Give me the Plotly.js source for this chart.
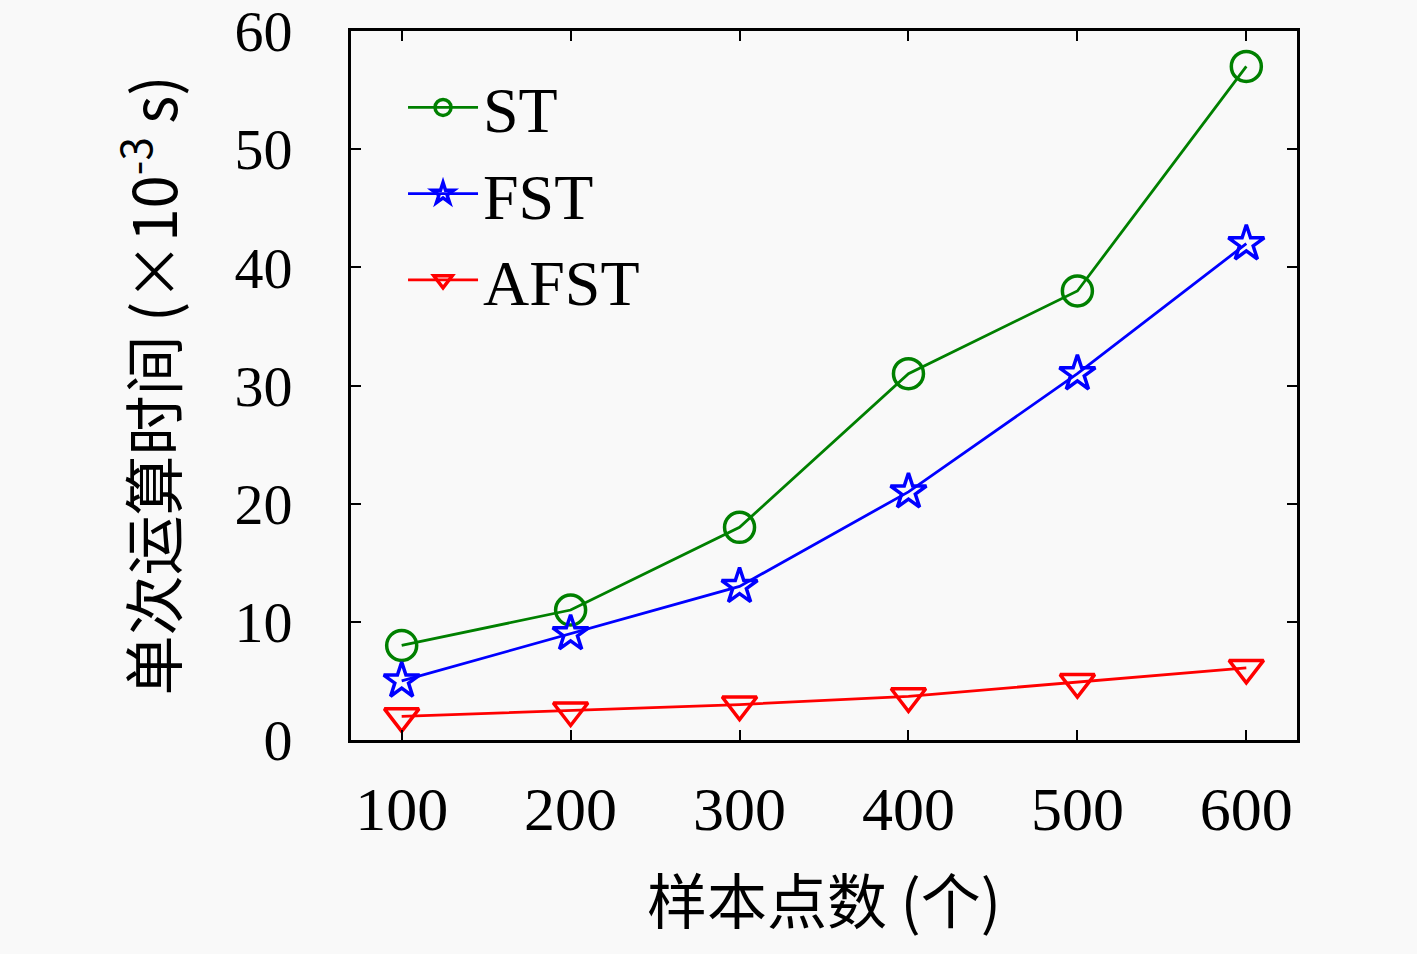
<!DOCTYPE html>
<html>
<head>
<meta charset="utf-8">
<script src="https://cdn.plot.ly/plotly-3.0.1.min.js"></script>
<style>
  body { margin: 0; background: rgb(249, 249, 249); }
</style>
</head>
<body>
<div id="chart" style="width:1417px;height:954px;"></div>
<script>
const samples = [100, 200, 300, 400, 500, 600];
const st = [8, 11, 18, 31, 38, 57];
const fst = [5, 9, 13, 21, 31, 42];
const afst = [2, 2.5, 3, 3.7, 4.9, 6.1];

const SERIF = '"Liberation Serif", "DejaVu Serif", serif';
const CJK = '"Noto Sans CJK SC", ' + SERIF;

function series(name, y, color, symbol, size) {
    return {
        x: samples,
        y: y,
        type: "scatter",
        mode: "lines+markers",
        name: name,
        line: { color: color, width: 2.8 },
        marker: {
            symbol: symbol,
            size: size,
            color: color,
            line: { color: color, width: 3.5 }
        }
    }
}

const traces = [
    series("ST", st, "rgb(0, 128, 0)", "circle-open", 30),
    series("FST", fst, "rgb(0, 0, 255)", "star-open", 27),
    series("AFST", afst, "rgb(255, 0, 0)", "triangle-down-open", 30)
];

Plotly.newPlot("chart", traces, {
    width: 1417,
    height: 954,
    paper_bgcolor: "rgb(249, 249, 249)",
    plot_bgcolor: "rgb(249, 249, 249)",
    margin: { l: 351, r: 120, t: 31, b: 214, pad: 0 },
    font: { family: SERIF, color: "black" },
    showlegend: true,
    legend: {
        x: 0.055,
        y: 0.96,
        xanchor: "left",
        yanchor: "top",
        bgcolor: "rgba(0,0,0,0)",
        font: { family: SERIF, size: 64, color: "black" },
        itemwidth: 70,
        tracegroupgap: 0
    },
    xaxis: {
        range: [70, 630],
        tickvals: samples,
        ticktext: samples.map(String),
        ticks: "inside",
        ticklen: 10,
        tickwidth: 2,
        tickcolor: "black",
        mirror: "ticks",
        showline: true,
        linecolor: "black",
        linewidth: 3,
        showgrid: false,
        zeroline: false,
        ticklabelstandoff: 13,
        ticklabeloverflow: "allow",
        tickfont: { family: SERIF, size: 62, color: "black" },
        title: {
            text: "样本点数 (个)",
            font: { family: CJK, size: 60, color: "black" },
            standoff: 40
        }
    },
    yaxis: {
        range: [0, 60],
        dtick: 10,
        ticks: "inside",
        ticklen: 10,
        tickwidth: 2,
        tickcolor: "black",
        mirror: "ticks",
        showline: true,
        linecolor: "black",
        linewidth: 3,
        showgrid: false,
        zeroline: false,
        ticklabelstandoff: 44,
        ticklabeloverflow: "allow",
        tickfont: { family: SERIF, size: 58, color: "black" },
        title: {
            text: "单次运算时间 (×10<sup>-3</sup> s)",
            font: { family: CJK, size: 60, color: "black" },
            standoff: 38
        }
    }
}, {
    displayModeBar: false
});
</script>
</body>
</html>
